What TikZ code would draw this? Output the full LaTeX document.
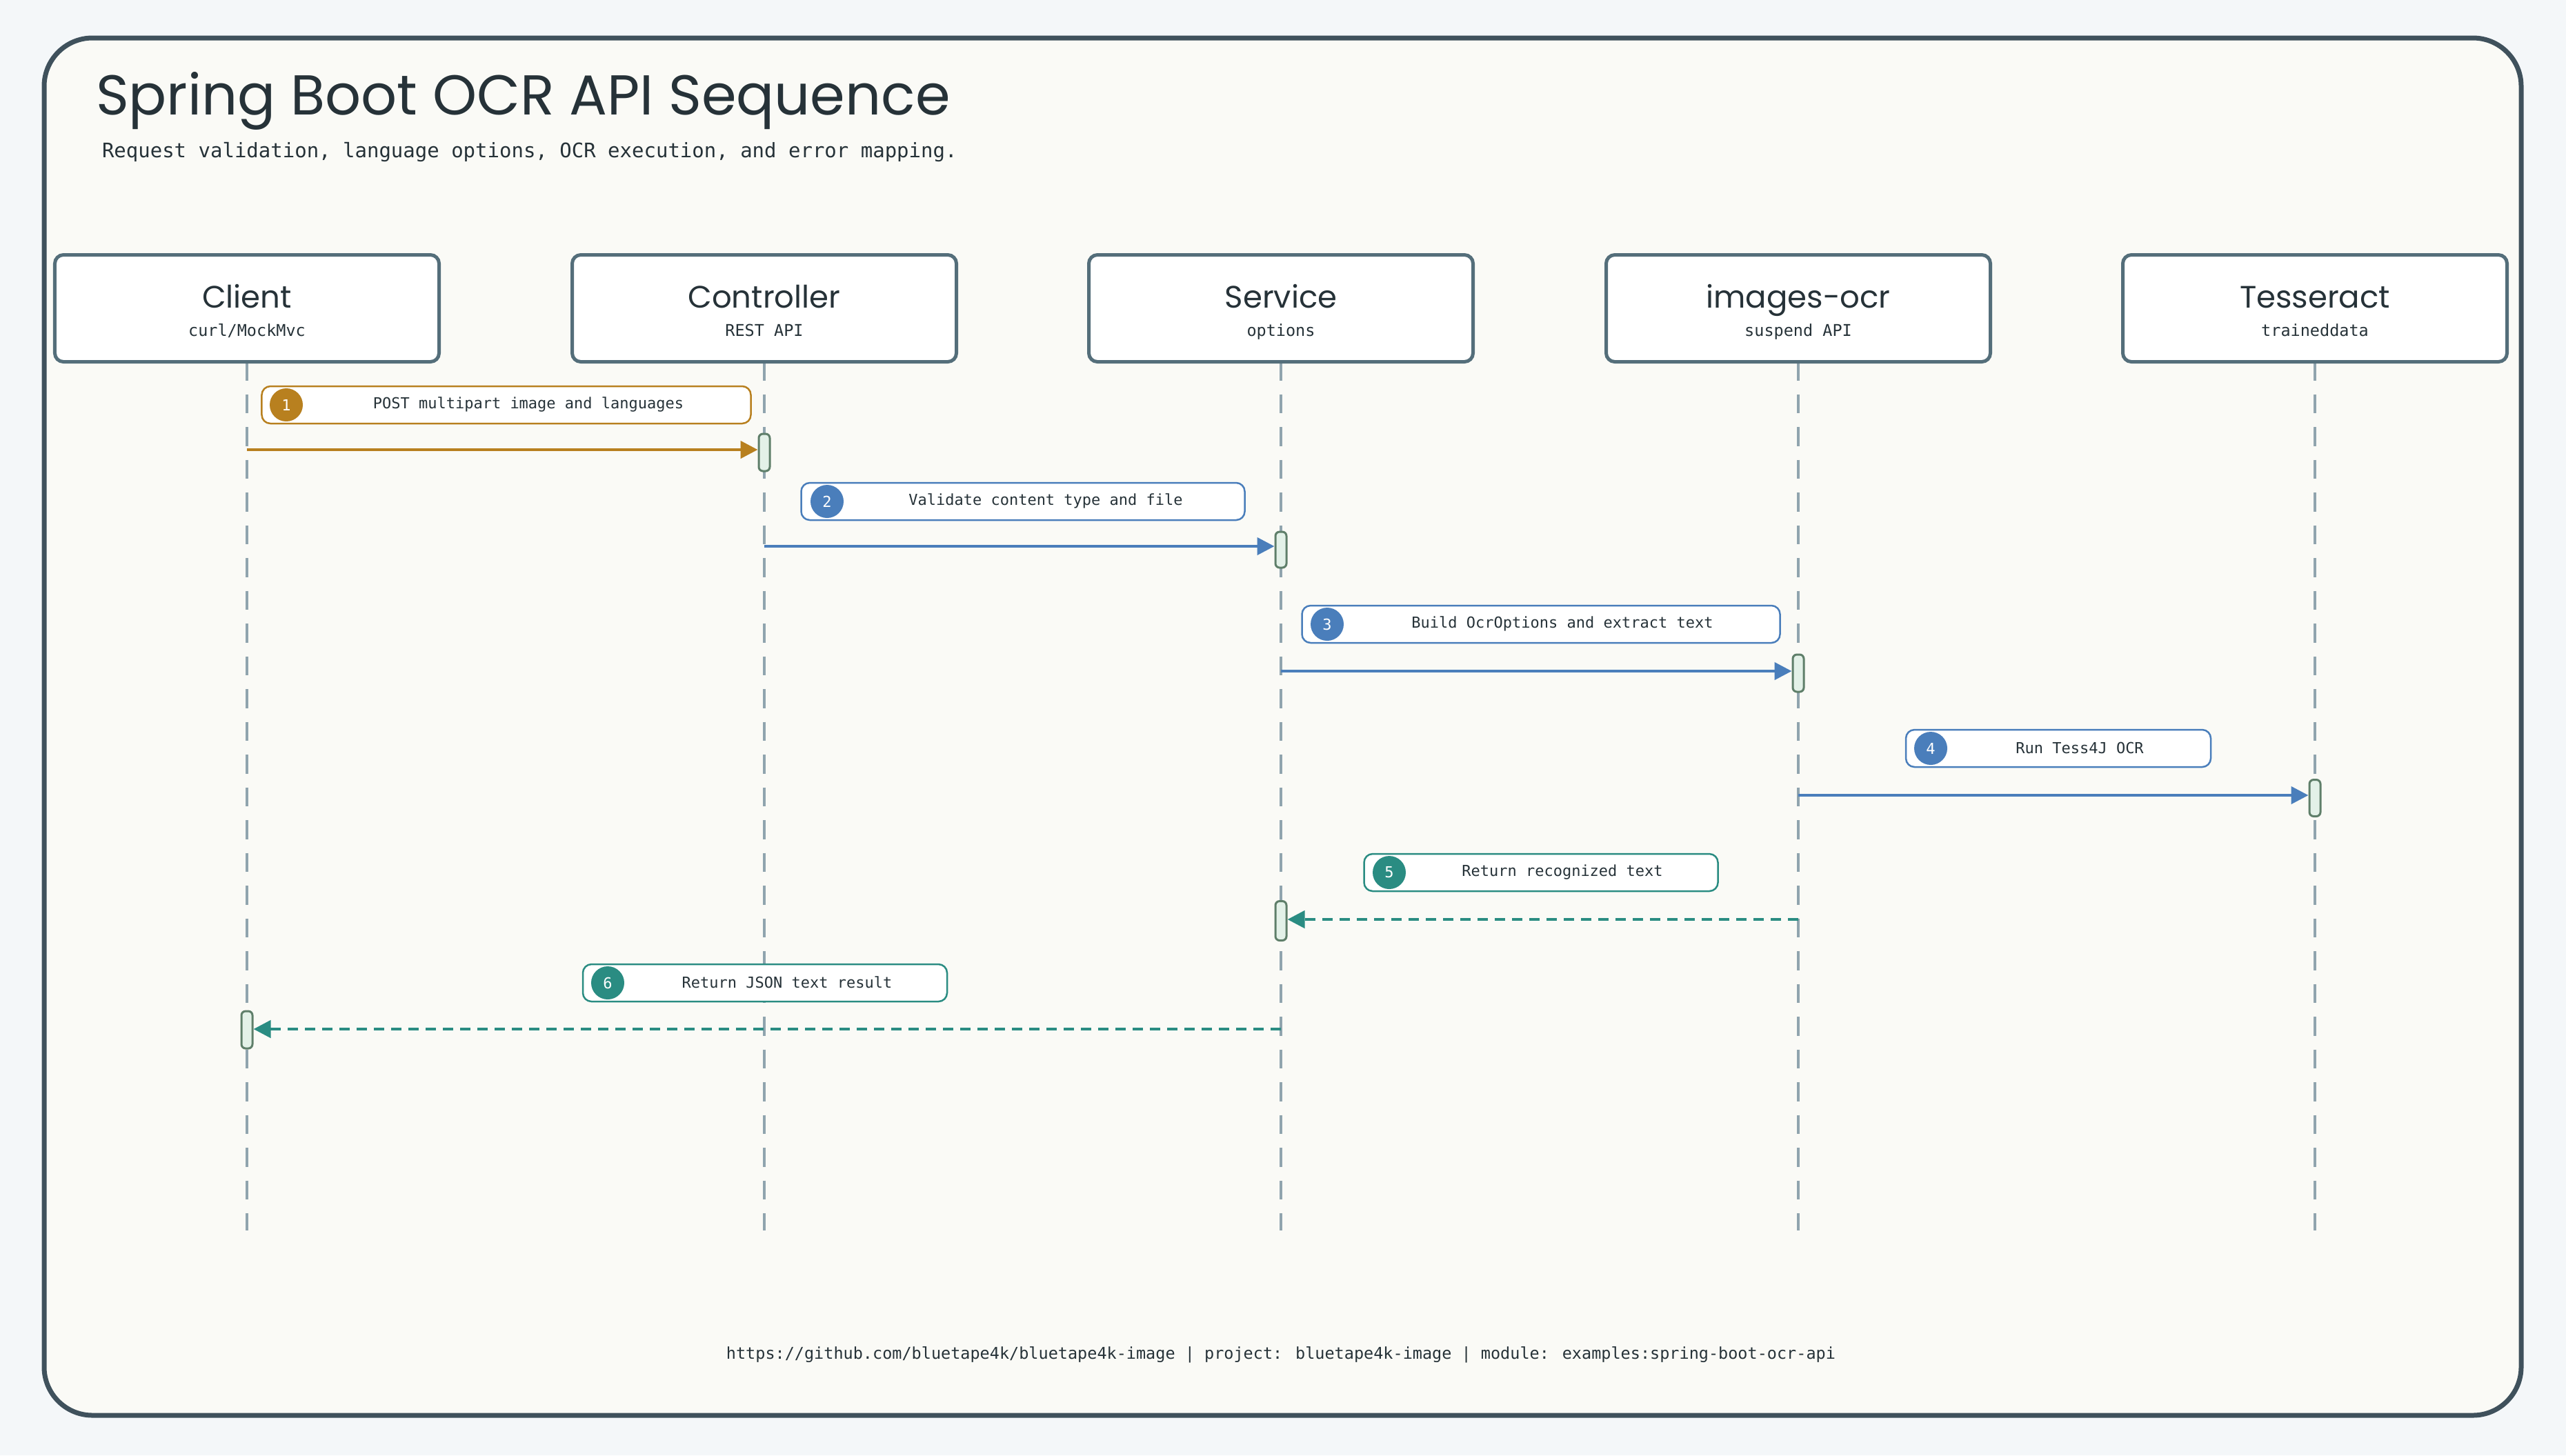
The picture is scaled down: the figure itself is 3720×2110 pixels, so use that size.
\documentclass[tikz,border=0pt]{standalone}
\usepackage{fontspec}
\setmainfont{Poppins}
\newfontfamily\monof{DejaVu Sans Mono}
\usetikzlibrary{arrows.meta}
\definecolor{bgc}{HTML}{F4F7F9}
\definecolor{framec}{HTML}{3F515C}
\definecolor{paper}{HTML}{FAFAF6}
\definecolor{boxc}{HTML}{546E7A}
\definecolor{txt}{HTML}{263238}
\definecolor{lifec}{HTML}{90A4AE}
\definecolor{orng}{HTML}{B8801F}
\definecolor{blu}{HTML}{4A7EBB}
\definecolor{tl}{HTML}{2A8C82}
\definecolor{actf}{HTML}{E3F1E8}
\definecolor{acts}{HTML}{5F7F6A}
\tikzset{
 part/.style={draw=boxc,line width=1pt,fill=white,rounded corners=2.5pt,minimum width=111.4pt,minimum height=31pt,inner sep=0pt},
 pname/.style={text=txt,font=\fontsize{9}{11}\selectfont,anchor=base,inner sep=0pt},
 psub/.style={text=txt,font=\monof\fontsize{4.7}{6}\selectfont,anchor=base,inner sep=0pt},
 life/.style={draw=lifec,line width=0.7pt,dash pattern=on 5.5pt off 4pt},
 act/.style={draw=acts,fill=actf,line width=0.6pt,rounded corners=1.2pt,minimum width=3.2pt,inner sep=0pt},
 lbl/.style={draw=#1,fill=white,line width=0.5pt,rounded corners=2.5pt,inner sep=0pt,minimum height=10.8pt},
 num/.style={circle,fill=#1,text=white,inner sep=0pt,minimum size=9.6pt,font=\monof\fontsize{4.4}{5}\selectfont},
 ltxt/.style={text=txt,font=\monof\fontsize{4.4}{5}\selectfont},
 msg/.style={draw=#1,line width=0.9pt,-{Triangle[length=5pt,width=5pt]}},
 ret/.style={draw=#1,line width=0.9pt,dash pattern=on 3pt off 2pt,-{Triangle[length=5pt,width=5pt]}},
}
\begin{document}
\begin{tikzpicture}[x=0.2pt,y=-0.2pt]
\fill[bgc] (0,0) rectangle (3720,2110);
\useasboundingbox (0,0) rectangle (3720,2110);
\draw[framec,fill=paper,line width=1.4pt,rounded corners=14pt] (64,55) rectangle (3655,2052);
\node[anchor=base west,text=txt,font=\fontsize{16.3}{18}\selectfont,inner sep=0] (title) at (138,166) {Spring Boot OCR API Sequence};
\node[anchor=west,text=txt,font=\monof\fontsize{5.8}{7}\selectfont,inner sep=0] (subtitle) at (147,221) {Request validation, language options, OCR execution, and error mapping.};
% participants
\foreach \n/\x/\a/\b in {cl/358/Client/curl\slash MockMvc,co/1108/Controller/REST API,se/1857/Service/options,io/2607/images-ocr/suspend API,te/3356/Tesseract/traineddata}{
 \coordinate (\n-bot) at (\x,1784);
 \draw[life] (\x,524) -- (\n-bot);
 \node[part] (\n) at (\x,447) {};
 \node[pname] (\n-name) at (\x,446) {\a};
 \node[psub] (\n-sub) at (\x,487) {\b};
}
% label boxes
\node[lbl=orng,minimum width=141.8pt] (l1) at (734,587) {};
\node[lbl=blu,minimum width=128.6pt] (l2) at (1483,727) {};
\node[lbl=blu,minimum width=138.6pt] (l3) at (2234,905) {};
\node[lbl=blu,minimum width=88.4pt] (l4) at (2984,1085) {};
\node[lbl=tl,minimum width=102.6pt] (l5) at (2234,1265) {};
\node[lbl=tl,minimum width=105.6pt] (l6) at (1109,1425) {};
\node[num=orng] (n1) at (415,587) {1};
\node[num=blu] (n2) at (1199,727) {2};
\node[num=blu] (n3) at (1924,905) {3};
\node[num=blu] (n4) at (2799,1085) {4};
\node[num=tl] (n5) at (2014,1265) {5};
\node[num=tl] (n6) at (881,1425) {6};
\node[ltxt] (t1) at (766,586) {POST multipart image and languages};
\node[ltxt] (t2) at (1516,726) {Validate content type and file};
\node[ltxt] (t3) at (2265,904) {Build OcrOptions and extract text};
\node[ltxt] (t4) at (3015,1084) {Run Tess4J OCR};
\node[ltxt] (t5) at (2265,1264) {Return recognized text};
\node[ltxt] (t6) at (1141,1424) {Return JSON text result};
% activations
\node[act,minimum height=10.8pt] (a1) at (1108,656) {};
\node[act,minimum height=10.4pt] (a2) at (1857,797) {};
\node[act,minimum height=10.8pt] (a3) at (2607,976) {};
\node[act,minimum height=10.6pt] (a4) at (3356,1157) {};
\node[act,minimum height=11.4pt] (a5) at (1857,1335) {};
\node[act,minimum height=10.8pt] (a6) at (358,1493) {};
% messages
\coordinate (s1) at (358,652);
\coordinate (s2) at (1108,792);
\coordinate (s3) at (1857,973);
\coordinate (s4) at (2607,1153);
\coordinate (s5) at (2607,1333);
\coordinate (s6) at (1857,1492);
\draw[msg=orng] (s1) -- (s1 -| a1.west);
\draw[msg=blu] (s2) -- (s2 -| a2.west);
\draw[msg=blu] (s3) -- (s3 -| a3.west);
\draw[msg=blu] (s4) -- (s4 -| a4.west);
\draw[ret=tl] (s5) -- (s5 -| a5.east);
\draw[ret=tl] (s6) -- (s6 -| a6.east);
\node[text=txt,font=\monof\fontsize{4.7}{6}\selectfont] (foot) at (1857,1964) {https://github.com/bluetape4k/bluetape4k-image | project: bluetape4k-image | module: examples:spring-boot-ocr-api};
\end{tikzpicture}
\end{document}
